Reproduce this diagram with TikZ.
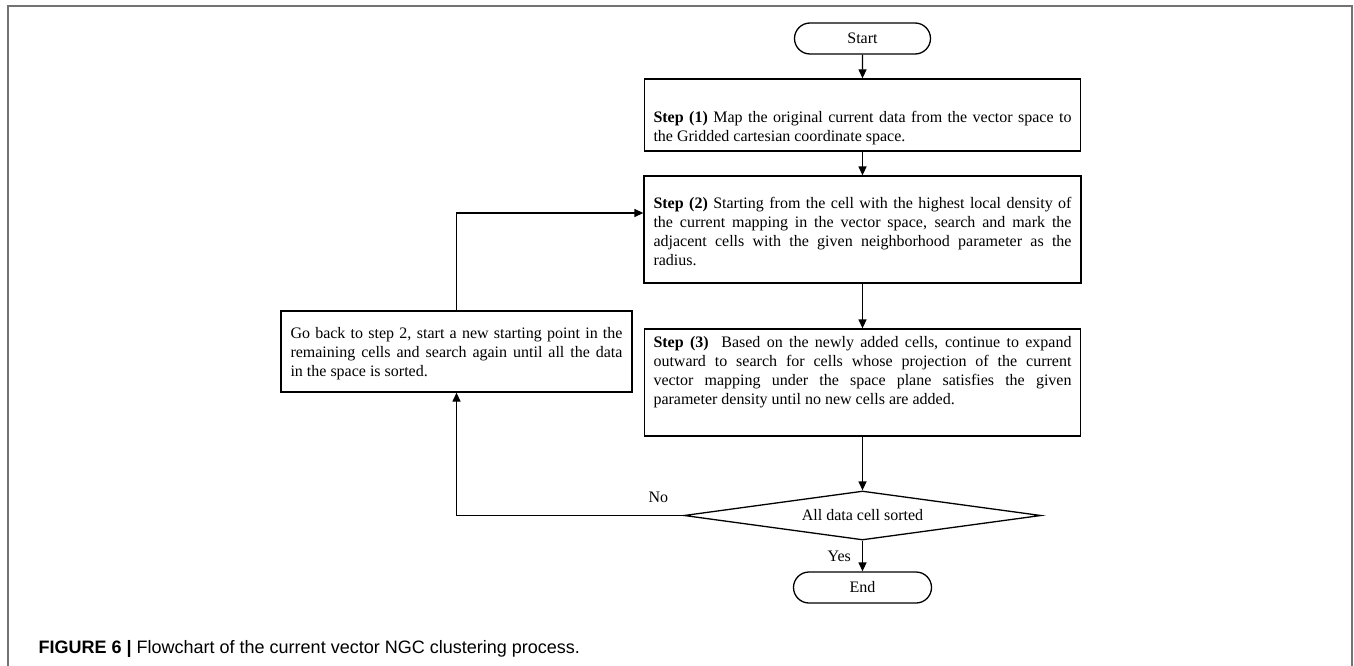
\documentclass[tikz,border=0pt]{standalone}
\usepackage{fontspec}
\setmainfont{Liberation Serif}
\newfontfamily\capfont{Liberation Sans}
\usetikzlibrary{shapes.geometric,shapes.misc,arrows.meta}

\begin{document}
\begin{tikzpicture}[x=1pt,y=-1pt,
  line width=1.3pt,
  flow/.style={-{Triangle[length=9pt,width=8pt]}},
  frameline/.style={draw=black!55, line width=2pt},
  stepbox/.style={draw, rectangle, inner sep=0pt},
  terminal/.style={draw, rounded rectangle, minimum width=136pt, minimum height=31pt,
                   inner sep=0pt, font=\fontsize{16}{19}\selectfont},
  decision/.style={draw, diamond, aspect=7.3, minimum width=357pt, minimum height=49pt,
                   inner sep=0pt, font=\fontsize{16}{19}\selectfont},
  body/.style={text width=#1, align=justify, inner sep=0pt,
               font=\fontsize{16}{19}\selectfont},
  tag/.style={font=\fontsize{16}{19}\selectfont, inner sep=0pt}
]
\useasboundingbox (0,0) rectangle (1354,666);

% page frame (open at the bottom)
\draw[frameline] (8,667) -- (8,6) -- (1352,6) -- (1352,667);

% main column
\node[terminal] (start) at (862.5,38.5) {Start};

\node[stepbox, minimum width=436pt, minimum height=72pt] (s1) at (862.5,115) {};
\node[body=418pt] (s1t) at (862.5,128)
  {\textbf{Step (1)} Map the original current data from the vector space to\linebreak
   the Gridded cartesian coordinate space.};

\node[stepbox, minimum width=437pt, minimum height=107pt] (s2) at (862.5,229.5) {};
\node[body=418pt] (s2t) at (862.5,231)
  {\textbf{Step (2)} Starting from the cell with the highest local density of\linebreak
   the current mapping in the vector space, search and mark the\linebreak
   adjacent cells with the given neighborhood parameter as the\linebreak
   radius.};

\node[stepbox, minimum width=436pt, minimum height=107pt] (s3) at (862.5,382.5) {};
\node[body=418pt] (s3t) at (862.5,372)
  {\textbf{Step (3)}\ \ Based on the newly added cells, continue to expand\linebreak
   outward to search for cells whose projection of the current\linebreak
   vector mapping under the space plane satisfies the given\linebreak
   parameter density until no new cells are added.};

\node[decision] (dec) at (862.5,515.5) {All data cell sorted};

\node[terminal, minimum width=138pt] (end) at (862.5,587.5) {End};

% feedback box
\node[stepbox, minimum width=351pt, minimum height=81pt] (back) at (456.5,351.5) {};
\node[body=332pt] (backt) at (456.5,354)
  {Go back to step 2, start a new starting point in the\linebreak
   remaining cells and search again until all the data\linebreak
   in the space is sorted.};

% connectors
\draw[flow] (start) -- (s1);
\draw[flow] (s1) -- (s2);
\draw[flow] (s2) -- (s3);
\draw[flow] (s3) -- (dec);
\draw[flow] (dec) -- node[tag, left=11pt] (yes) {Yes} (end);

\coordinate (corner) at (back.south |- dec.west);
\draw[flow] (dec.west) -- node[tag, pos=0.11, above=12pt] (no) {No} (corner) -- (back.south);

\coordinate (entry) at ([yshift=16.5pt]s2.west);
\draw[flow] (back.north) -- (back.north |- entry) -- (entry);

% caption
\node[anchor=base west, inner sep=0pt, font=\capfont\fontsize{18}{21}\selectfont] (cap)
  at (38,653) {\textbf{FIGURE 6 |} Flowchart of the current vector NGC clustering process.};
\end{tikzpicture}
\end{document}
